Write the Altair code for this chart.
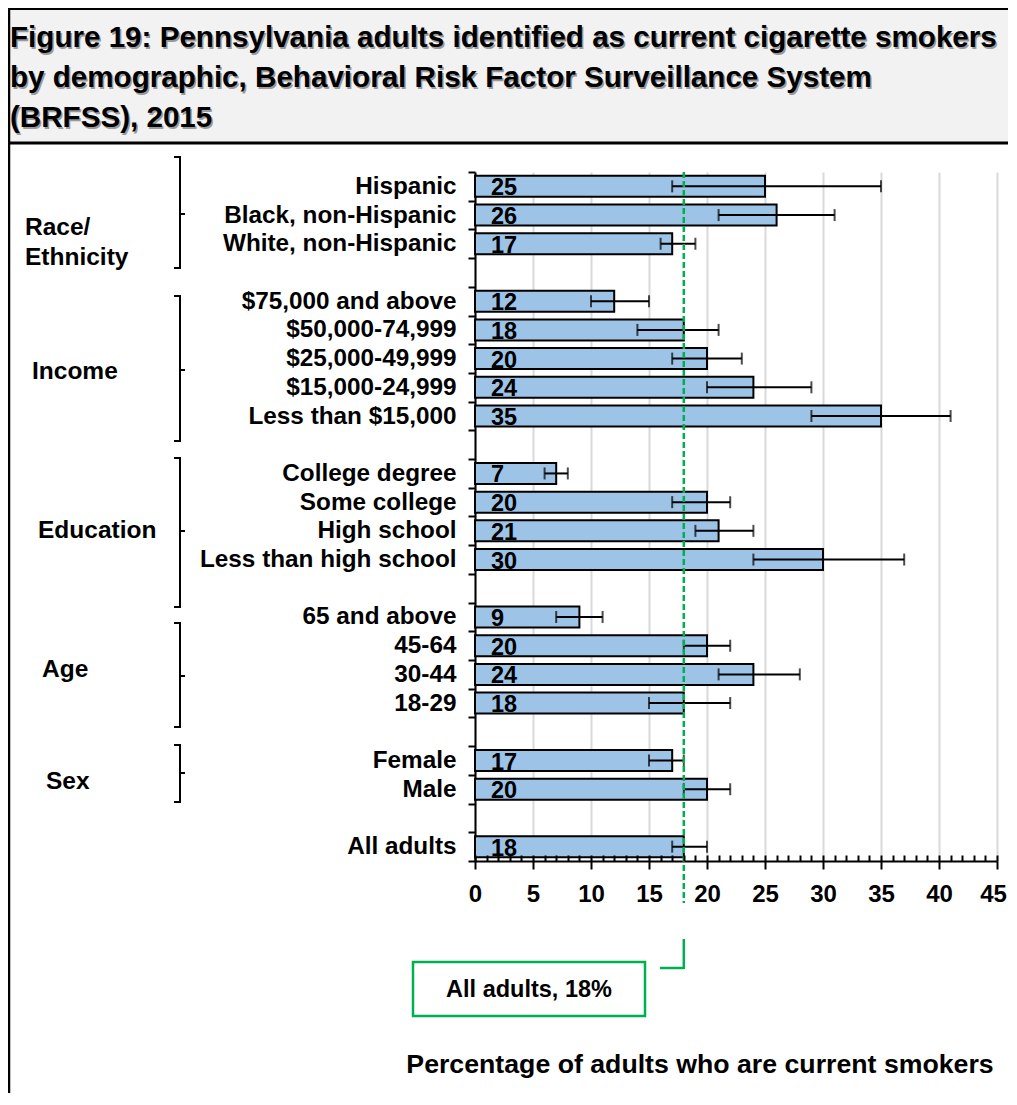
import altair as alt
import pandas as pd

FONT = "Liberation Sans"
GREEN = "#00b050"
BAR_BLUE = "#9dc3e6"

# ---------------- data ----------------
bar_labels = [
    "Hispanic", "Black, non-Hispanic", "White, non-Hispanic",
    "$75,000 and above", "$50,000-74,999", "$25,000-49,999", "$15,000-24,999", "Less than $15,000",
    "College degree", "Some college", "High school", "Less than high school",
    "65 and above", "45-64", "30-44", "18-29",
    "Female", "Male",
    "All adults",
]
values = [25, 26, 17, 12, 18, 20, 24, 35, 7, 20, 21, 30, 9, 20, 24, 18, 17, 20, 18]
ci_low = [17, 21, 16, 10, 14, 17, 20, 29, 6, 17, 19, 24, 7, 18, 21, 15, 15, 18, 17]
ci_high = [35, 31, 19, 15, 21, 23, 29, 41, 8, 22, 24, 37, 11, 22, 28, 22, 18, 22, 20]

# row order on the y axis, blank strings are the gaps between groups
row_order = [
    "Hispanic", "Black, non-Hispanic", "White, non-Hispanic", " ",
    "$75,000 and above", "$50,000-74,999", "$25,000-49,999", "$15,000-24,999", "Less than $15,000", "  ",
    "College degree", "Some college", "High school", "Less than high school", "   ",
    "65 and above", "45-64", "30-44", "18-29", "    ",
    "Female", "Male", "     ",
    "All adults",
]

group_names = ["Race/\nEthnicity", "Income", "Education", "Age", "Sex"]

tick_values = [0, 5, 10, 15, 20, 25, 30, 35, 40, 45]
minor_tick_values = list(range(0, 46))

title_lines = [
    "Figure 19: Pennsylvania adults identified as current cigarette smokers",
    "by demographic, Behavioral Risk Factor Surveillance System",
    "(BRFSS), 2015",
]
x_title = "Percentage of adults who are current smokers"

df = pd.DataFrame({"label": bar_labels, "value": values, "lo": ci_low, "hi": ci_high})
one = pd.DataFrame({"a": [0]})

W, H = 522, 689

y_enc = alt.Y(
    "label:N",
    scale=alt.Scale(domain=row_order, paddingInner=0, paddingOuter=0),
    axis=alt.Axis(
        title=None, tickBand="extent", tickSize=7, tickWidth=2, tickColor="black",
        domainColor="black", domainWidth=2, labelFont=FONT, labelFontSize=24.3,
        labelFontWeight="bold", labelColor="black", labelPadding=12, grid=False,
        labelLimit=400,
    ),
)
x_scale = alt.Scale(domain=[0, 45], nice=False, zero=True)

base = alt.Chart(df)

bars = base.mark_bar(size=21, color=BAR_BLUE, stroke="black", strokeWidth=2).encode(
    x=alt.X(
        "value:Q", scale=x_scale,
        axis=alt.Axis(
            values=tick_values, orient="bottom", title=None, grid=True, gridColor="#d9d9d9",
            gridWidth=2, tickSize=8, tickWidth=2, tickColor="black", domainColor="black",
            domainWidth=2, labelFont=FONT, labelFontSize=24, labelFontWeight="bold",
            labelColor="black", labelPadding=13, format="d", labelFlush=False,
            labelOverlap=False,
            labelOffset={"condition": {"test": "datum.value == 45", "value": -4}, "value": 0},
        ),
    ),
    y=y_enc,
)

minor_axis = base.mark_point(opacity=0).encode(
    x=alt.X(
        "value:Q", scale=x_scale,
        axis=alt.Axis(
            values=minor_tick_values, orient="bottom", title=None, grid=False, labels=False,
            domain=False, tickSize=6, tickWidth=2, tickColor="black", offset=-6, zindex=1,
        ),
    ),
    y=alt.Y("label:N"),
)

err_rule = base.mark_rule(color="black", strokeWidth=2).encode(
    x=alt.X("lo:Q", scale=x_scale, axis=None), x2="hi:Q", y=alt.Y("label:N")
)
cap_lo = base.mark_tick(color="black", thickness=2, size=12).encode(
    x=alt.X("lo:Q", scale=x_scale, axis=None), y=alt.Y("label:N")
)
cap_hi = base.mark_tick(color="black", thickness=2, size=12).encode(
    x=alt.X("hi:Q", scale=x_scale, axis=None), y=alt.Y("label:N")
)

value_text = base.transform_calculate(zero="0").mark_text(
    align="left", baseline="middle", dx=16, dy=2, font=FONT, fontSize=23.5,
    fontWeight="bold", color="black",
).encode(
    x=alt.X("zero:Q", scale=x_scale, axis=None), y=alt.Y("label:N"), text=alt.Text("value:Q", format="d")
)

all_adults = base.transform_filter(alt.datum.label == "All adults")

ref_line = all_adults.mark_rule(color=GREEN, strokeWidth=2.5, strokeDash=[6, 3]).encode(
    x=alt.X("value:Q", scale=x_scale, axis=None), y=alt.value(0), y2=alt.value(731)
)
conn_v = all_adults.mark_rule(color=GREEN, strokeWidth=2.5).encode(
    x=alt.X("value:Q", scale=x_scale, axis=None), y=alt.value(767), y2=alt.value(797)
)
conn_h = all_adults.mark_rule(color=GREEN, strokeWidth=2.5).encode(
    x=alt.X("value:Q", scale=x_scale, axis=None), x2=alt.value(185), y=alt.value(796)
)
box = alt.Chart(one).mark_rect(fill="white", stroke=GREEN, strokeWidth=2.5).encode(
    x=alt.value(-62), x2=alt.value(170), y=alt.value(790), y2=alt.value(844)
)
box_text = all_adults.transform_calculate(
    t="'All adults, ' + datum.value + '%'"
).mark_text(font=FONT, fontSize=23.5, fontWeight="bold", color="black", align="center", baseline="middle").encode(
    x=alt.value(54), y=alt.value(818), text="t:N"
)

axis_title = alt.Chart(one).mark_text(
    text=x_title, font=FONT, fontSize=26.7, fontWeight="bold", color="black", align="center",
    baseline="alphabetic",
).encode(x=alt.value(225), y=alt.value(901))

# title block
title_bg = alt.Chart(one).mark_rect(fill="#f2f2f2").encode(
    x=alt.value(-467), x2=alt.value(540), y=alt.value(-163), y2=alt.value(-29)
)
title_top = alt.Chart(one).mark_rule(color="black", strokeWidth=2).encode(
    x=alt.value(-467), x2=alt.value(540), y=alt.value(-163)
)
title_bottom = alt.Chart(one).mark_rule(color="black", strokeWidth=3).encode(
    x=alt.value(-467), x2=alt.value(540), y=alt.value(-29)
)
left_border = alt.Chart(one).mark_rule(color="black", strokeWidth=2.5).encode(
    x=alt.value(-466), y=alt.value(-164), y2=alt.value(940)
)
title_layers = []
for i, line in enumerate(title_lines):
    yy = -125 + 40 * i
    title_layers.append(
        alt.Chart(one).mark_text(
            text=line, font=FONT, fontSize=29.6, fontWeight="bold", color="#9a9a9a",
            align="left", baseline="alphabetic", dx=1.5, dy=1.5,
        ).encode(x=alt.value(-465), y=alt.value(yy))
    )
    title_layers.append(
        alt.Chart(one).mark_text(
            text=line, font=FONT, fontSize=29.6, fontWeight="bold", color="black",
            align="left", baseline="alphabetic",
        ).encode(x=alt.value(-465), y=alt.value(yy))
    )

# group labels and brackets (annotation, pixel offsets from plot origin)
group_label_pos = [(-450, 71), (-443, 200), (-437, 359), (-433, 498), (-429, 610)]
bracket_pos = [(-15, 96, 42), (124, 269, 198), (286, 435, 359), (451, 555, 504), (573, 630, 601)]

group_layers = []
for name, (gx, gy) in zip(group_names, group_label_pos):
    lines = name.split("\n")
    for j, ln in enumerate(lines):
        off = (j - (len(lines) - 1) / 2) * 30
        group_layers.append(
            alt.Chart(one).mark_text(
                text=ln, font=FONT, fontSize=24.5, fontWeight="bold", color="black",
                align="left", baseline="middle",
            ).encode(x=alt.value(gx), y=alt.value(gy + off))
        )
BX = -295
for (t, b, m) in bracket_pos:
    group_layers.append(alt.Chart(one).mark_rule(color="black", strokeWidth=2).encode(
        x=alt.value(BX), y=alt.value(t), y2=alt.value(b)))
    group_layers.append(alt.Chart(one).mark_rule(color="black", strokeWidth=2).encode(
        x=alt.value(BX - 6), x2=alt.value(BX + 1), y=alt.value(t)))
    group_layers.append(alt.Chart(one).mark_rule(color="black", strokeWidth=2).encode(
        x=alt.value(BX - 6), x2=alt.value(BX + 1), y=alt.value(b)))
    group_layers.append(alt.Chart(one).mark_rule(color="black", strokeWidth=2).encode(
        x=alt.value(BX), x2=alt.value(BX + 5), y=alt.value(m)))

chart = alt.layer(
    title_bg, title_top, title_bottom, left_border, *title_layers,
    bars, minor_axis, err_rule, cap_lo, cap_hi, ref_line, value_text,
    conn_v, conn_h, box, box_text, axis_title, *group_layers,
).resolve_axis(x="independent").properties(
    width=W, height=H,
    autosize=alt.AutoSizeParams(type="none"),
    padding={"left": 467, "top": 164, "right": 11, "bottom": 232},
    background="white",
).configure_view(stroke=None).configure_text(font=FONT)

chart.save("out.html", embed_options={"renderer": "svg", "actions": False})
